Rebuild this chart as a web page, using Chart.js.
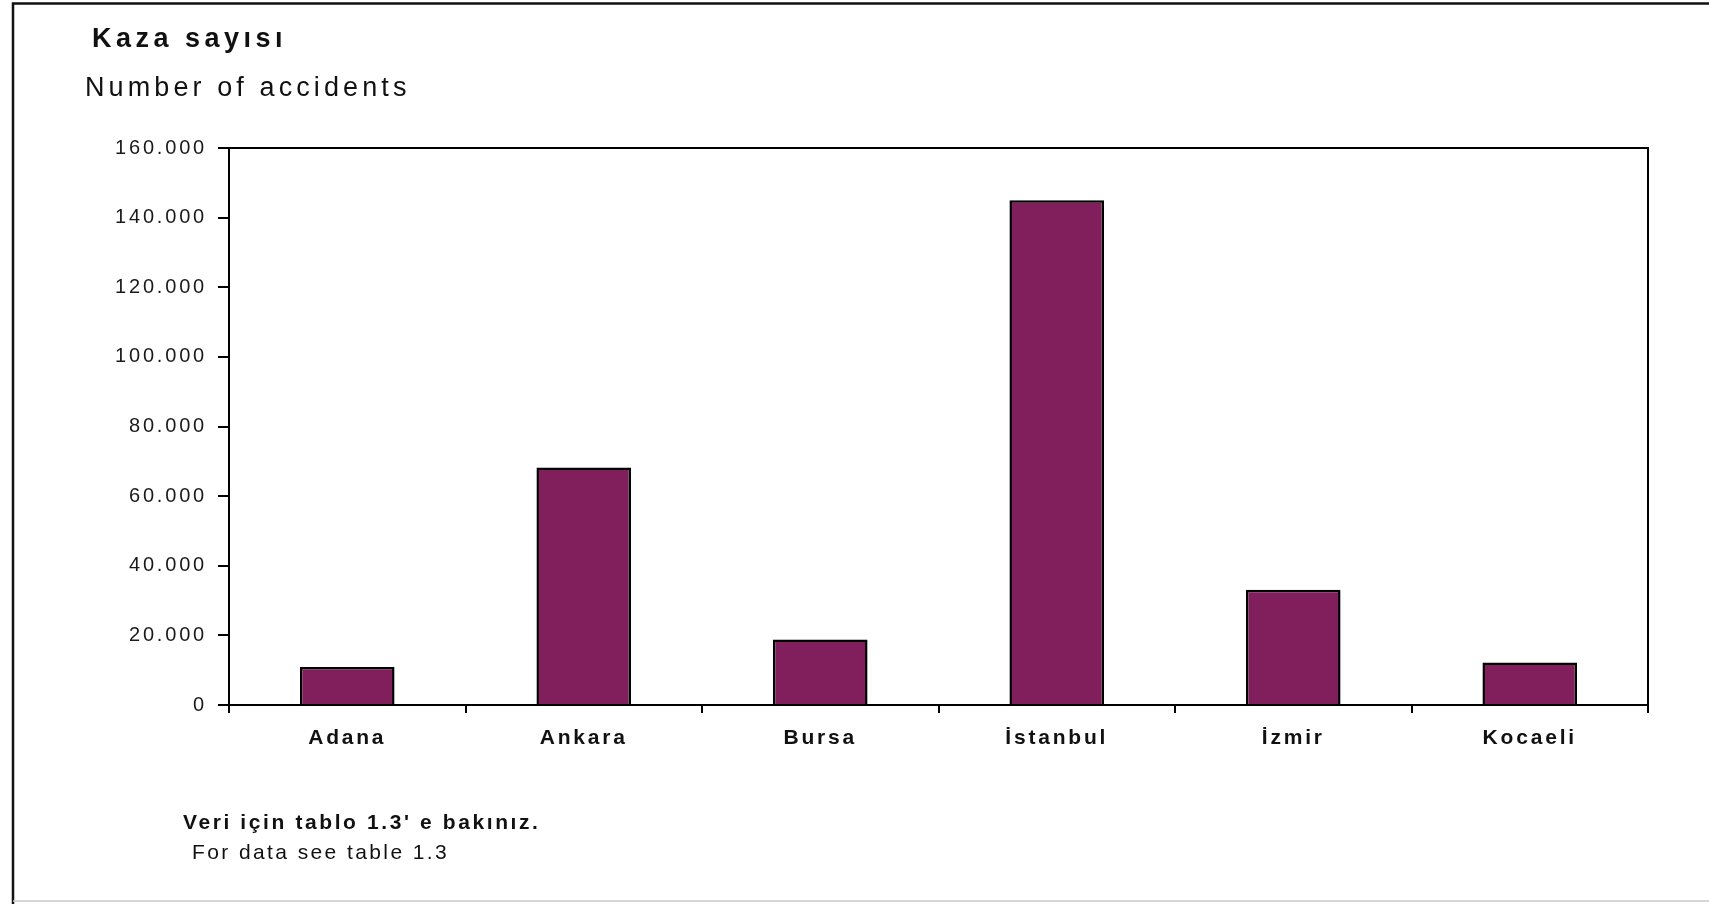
<!DOCTYPE html>
<html>
<head>
<meta charset="utf-8">
<script src="https://cdn.jsdelivr.net/npm/chart.js@4"></script>
<style>
  html, body { margin: 0; padding: 0; background: #fff; }
  #wrap { position: relative; width: 1709px; height: 904px; }
</style>
</head>
<body>
<div id="wrap"><canvas id="c" width="1709" height="904"></canvas></div>
<script>
const categories = ["Adana", "Ankara", "Bursa", "İstanbul", "İzmir", "Kocaeli"];
const accidents = [10900, 68200, 18800, 145000, 33100, 12200];
const yTicks = [0, 20000, 40000, 60000, 80000, 100000, 120000, 140000, 160000];
const titleTr = "Kaza sayısı";
const titleEn = "Number of accidents";
const noteTr = "Veri için tablo 1.3' e bakınız.";
const noteEn = "For data see table 1.3";

const FONT = '"Liberation Sans", Arial, sans-serif';

function fmt(v) {
  return String(v).replace(/\B(?=(\d{3})+(?!\d))/g, '.');
}

const decor = {
  id: 'decor',
  beforeDraw(chart) {
    chart.ctx.letterSpacing = '2.8px';
  },
  afterDraw(chart) {
    const ctx = chart.ctx;
    const a = chart.chartArea;
    ctx.save();
    // plot-area border (top & right)
    ctx.strokeStyle = '#000';
    ctx.lineWidth = 2;
    ctx.beginPath();
    ctx.moveTo(a.left, a.top);
    ctx.lineTo(a.right, a.top);
    ctx.lineTo(a.right, a.bottom);
    ctx.stroke();
    // outer frame
    ctx.lineWidth = 2.5;
    ctx.strokeStyle = '#111';
    ctx.beginPath();
    ctx.moveTo(13, 904);
    ctx.lineTo(13, 3.5);
    ctx.lineTo(1709, 3.5);
    ctx.stroke();
    ctx.lineWidth = 1.5;
    ctx.strokeStyle = '#c8c8c8';
    ctx.beginPath();
    ctx.moveTo(13, 901);
    ctx.lineTo(1709, 901);
    ctx.stroke();
    // texts
    ctx.fillStyle = '#111';
    ctx.textAlign = 'left';
    ctx.textBaseline = 'alphabetic';
    ctx.font = 'bold 27px ' + FONT;
    ctx.letterSpacing = '4.5px';
    ctx.fillText(titleTr, 92, 47);
    ctx.font = '27px ' + FONT;
    ctx.letterSpacing = '4.1px';
    ctx.fillText(titleEn, 85, 96);
    ctx.font = 'bold 21px ' + FONT;
    ctx.letterSpacing = '2.6px';
    ctx.fillText(noteTr, 183, 829);
    ctx.font = '21px ' + FONT;
    ctx.letterSpacing = '2.4px';
    ctx.fillText(noteEn, 192, 859);
    ctx.restore();
  }
};

new Chart(document.getElementById('c'), {
  type: 'bar',
  data: {
    labels: categories,
    datasets: [{
      label: titleEn,
      data: accidents,
      backgroundColor: '#801F5C',
      borderColor: '#000',
      borderWidth: 2.5,
      borderSkipped: 'bottom',
      barPercentage: 0.4,
      categoryPercentage: 1.0
    }]
  },
  options: {
    responsive: false,
    animation: false,
    layout: { padding: { top: 148, right: 61, bottom: 0, left: 0 } },
    plugins: {
      legend: { display: false },
      tooltip: { enabled: false },
      title: { display: false }
    },
    scales: {
      x: {
        offset: true,
        afterFit(scale) { scale.height = 199; },
        grid: {
          offset: true,
          drawOnChartArea: false,
          drawTicks: true,
          tickLength: 8,
          color: '#000',
          lineWidth: 2
        },
        border: { display: true, color: '#000', width: 2 },
        ticks: {
          color: '#111',
          padding: 13,
          maxRotation: 0,
          autoSkip: false,
          font: { family: FONT, size: 21, weight: 'bold' }
        }
      },
      y: {
        min: 0,
        max: 160000,
        afterFit(scale) { scale.width = 229; },
        afterBuildTicks(scale) { scale.ticks = yTicks.map(v => ({ value: v })); },
        grid: {
          drawOnChartArea: false,
          drawTicks: true,
          tickLength: 11,
          color: '#000',
          lineWidth: 2
        },
        border: { display: true, color: '#000', width: 2 },
        ticks: {
          color: '#1a1a1a',
          padding: 11,
          font: { family: FONT, size: 20 },
          callback: (v) => fmt(v)
        }
      }
    }
  },
  plugins: [decor]
});
</script>
</body>
</html>
